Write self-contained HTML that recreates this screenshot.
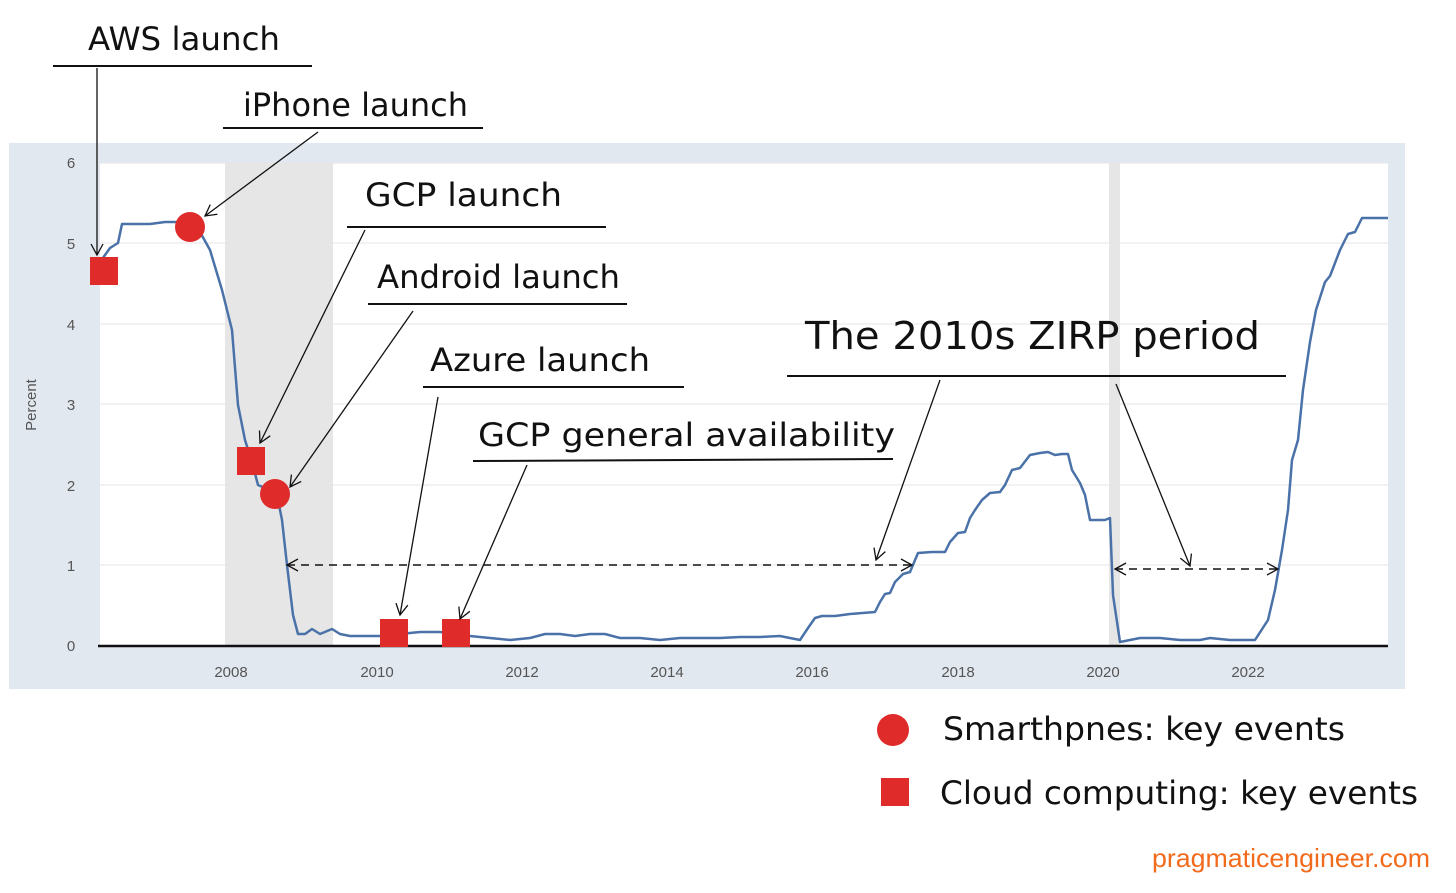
<!DOCTYPE html>
<html><head><meta charset="utf-8"><style>
html,body{margin:0;padding:0;background:#fff;}
svg{display:block;}
.h{font-family:"DejaVu Sans","Liberation Sans",sans-serif;fill:#111;}
.ax{font-family:"Liberation Sans",sans-serif;font-size:15px;fill:#555;}
</style></head><body>
<svg width="1456" height="893" viewBox="0 0 1456 893" xmlns="http://www.w3.org/2000/svg">
<defs>
<marker id="a" markerWidth="14" markerHeight="14" refX="12" refY="7" orient="auto" markerUnits="userSpaceOnUse">
<path d="M1,1 L12,7 L1,13" fill="none" stroke="#111" stroke-width="1.3"/></marker>
<marker id="as" markerWidth="14" markerHeight="14" refX="2" refY="7" orient="auto" markerUnits="userSpaceOnUse">
<path d="M13,1 L2,7 L13,13" fill="none" stroke="#111" stroke-width="1.3"/></marker>
</defs>
<rect x="9" y="143" width="1396" height="546" fill="#e2e8f0"/>
<rect x="100" y="163" width="1288" height="483" fill="#fff"/>
<rect x="225" y="163" width="108" height="483" fill="#e6e6e6"/>
<rect x="1109" y="163" width="11" height="483" fill="#e6e6e6"/>
<g stroke="#e4e4e4" stroke-width="1">
<line x1="100" y1="565" x2="1388" y2="565"/><line x1="100" y1="485" x2="1388" y2="485"/>
<line x1="100" y1="404" x2="1388" y2="404"/><line x1="100" y1="324" x2="1388" y2="324"/>
<line x1="100" y1="243" x2="1388" y2="243"/><line x1="100" y1="163" x2="1388" y2="163"/>
</g>
<line x1="98" y1="646" x2="1388" y2="646" stroke="#111" stroke-width="2.5"/>
<g class="ax" text-anchor="middle">
<text x="71" y="651">0</text><text x="71" y="571">1</text><text x="71" y="491">2</text>
<text x="71" y="410">3</text><text x="71" y="330">4</text><text x="71" y="249">5</text><text x="71" y="168">6</text>
<text x="231" y="677">2008</text><text x="377" y="677">2010</text><text x="522" y="677">2012</text>
<text x="667" y="677">2014</text><text x="812" y="677">2016</text><text x="958" y="677">2018</text>
<text x="1103" y="677">2020</text><text x="1248" y="677">2022</text>
<text transform="translate(36,405) rotate(-90)">Percent</text>
</g>
<polyline fill="none" stroke="#4a72a8" stroke-width="2.5" stroke-linejoin="round" points="100,262 110,248 118,243 122,224 150,224 165,222 185,222 200,232 210,250 222,290 232,330 238,405 245,440 252,462 258,485 265,488 272,488 278,500 282,520 287,565 293,615 298,634 305,634 312,629 320,634 332,629 340,634 350,636 380,636 400,634 420,632 440,632 470,636 490,638 510,640 530,638 545,634 560,634 575,636 590,634 605,634 620,638 640,638 660,640 680,638 700,638 720,638 740,637 760,637 780,636 800,640 808,628 815,618 822,616 835,616 850,614 875,612 880,602 885,594 890,593 895,582 903,574 910,572 918,553 932,552 945,552 950,542 958,533 965,532 970,518 975,510 982,500 990,493 1000,492 1005,485 1012,470 1020,468 1030,455 1040,453 1048,452 1055,455 1062,454 1068,454 1072,470 1080,483 1085,495 1090,520 1105,520 1110,518 1113,595 1120,642 1130,640 1140,638 1160,638 1180,640 1200,640 1210,638 1230,640 1255,640 1268,620 1275,590 1282,550 1288,510 1292,460 1298,440 1303,390 1310,342 1316,310 1325,282 1330,276 1340,250 1348,234 1355,232 1362,218 1388,218"/>
<g fill="#e02b2b">
<rect x="90" y="257" width="28" height="28"/><rect x="237" y="447" width="28" height="28"/>
<rect x="380" y="619" width="28" height="28"/><rect x="442" y="619" width="28" height="28"/>
<circle cx="190" cy="227" r="15"/><circle cx="275" cy="494" r="15"/>
<circle cx="893" cy="730" r="16"/><rect x="881" y="778" width="28" height="28"/>
</g>
<g stroke="#111" stroke-width="2" fill="none">
<line x1="53" y1="66" x2="312" y2="66"/><line x1="223" y1="128" x2="483" y2="128"/>
<line x1="347" y1="227" x2="606" y2="227"/><line x1="368" y1="304" x2="627" y2="304"/>
<line x1="423" y1="387" x2="684" y2="387"/><line x1="473" y1="461" x2="893" y2="459"/>
<line x1="787" y1="376" x2="1286" y2="376"/>
</g>
<g stroke="#111" stroke-width="1.3" fill="none" marker-end="url(#a)">
<line x1="97" y1="68" x2="97" y2="255"/><line x1="318" y1="132" x2="205" y2="216"/>
<line x1="365" y1="230" x2="260" y2="443"/><line x1="413" y1="311" x2="290" y2="487"/>
<line x1="438" y1="397" x2="400" y2="615"/><line x1="527" y1="465" x2="460" y2="619"/>
<line x1="940" y1="380" x2="876" y2="560"/><line x1="1116" y1="384" x2="1190" y2="566"/>
<line x1="287" y1="565" x2="912" y2="565" stroke-dasharray="8,6" stroke-width="1.6" marker-start="url(#as)"/>
<line x1="1115" y1="569" x2="1278" y2="569" stroke-dasharray="8,6" stroke-width="1.6" marker-start="url(#as)"/>
</g>
<g class="h">
<text x="88" y="50" font-size="32" textLength="192" lengthAdjust="spacingAndGlyphs">AWS launch</text>
<text x="243" y="116" font-size="32" textLength="225" lengthAdjust="spacingAndGlyphs">iPhone launch</text>
<text x="365" y="206" font-size="32" textLength="197" lengthAdjust="spacingAndGlyphs">GCP launch</text>
<text x="377" y="288" font-size="32" textLength="243" lengthAdjust="spacingAndGlyphs">Android launch</text>
<text x="430" y="371" font-size="32" textLength="220" lengthAdjust="spacingAndGlyphs">Azure launch</text>
<text x="478" y="446" font-size="32" textLength="417" lengthAdjust="spacingAndGlyphs">GCP general availability</text>
<text x="805" y="349" font-size="38" textLength="455" lengthAdjust="spacingAndGlyphs">The 2010s ZIRP period</text>
<text x="943" y="740" font-size="32" textLength="402" lengthAdjust="spacingAndGlyphs">Smarthpnes: key events</text>
<text x="940" y="804" font-size="32" textLength="478" lengthAdjust="spacingAndGlyphs">Cloud computing: key events</text>
</g>
<text x="1152" y="867" font-family="'Liberation Sans',sans-serif" font-size="26" fill="#f26b1d" textLength="278" lengthAdjust="spacingAndGlyphs">pragmaticengineer.com</text>
</svg>
</body></html>
